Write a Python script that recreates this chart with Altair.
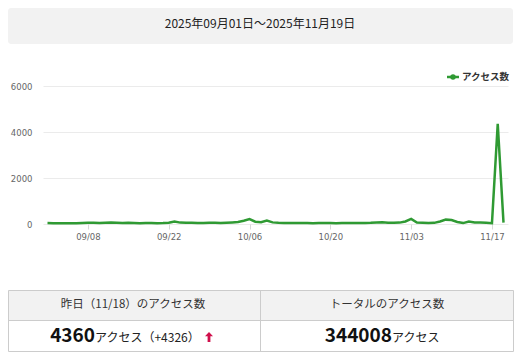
import altair as alt
import pandas as pd

# ---------------- data ----------------
dates = pd.date_range("2025-09-01", "2025-11-19", freq="D").strftime("%Y-%m-%d").tolist()
access = [
    40, 35, 30, 32, 28, 35, 45, 50, 55, 48,      # 09/01-09/10
    52, 60, 55, 45, 50, 42, 38, 45, 40, 35,      # 09/11-09/20
    42, 55, 110, 60, 55, 50, 45, 48, 52, 50,     # 09/21-09/30
    45, 55, 70, 90, 140, 210, 100, 80, 150, 70,  # 10/01-10/10
    50, 45, 42, 40, 45, 40, 38, 42, 45, 40,      # 10/11-10/20
    38, 40, 42, 45, 40, 45, 50, 70, 75, 55,      # 10/21-10/30
    50, 60, 110, 220, 60, 50, 45, 50, 110, 190,  # 10/31-11/09
    170, 90, 40, 110, 70, 60, 50, 34, 4360, 60,  # 11/10-11/19
]
series_name = "アクセス数"
period_label = "2025年09月01日～2025年11月19日"
table_headers = ["昨日（11/18）のアクセス数", "トータルのアクセス数"]
yesterday_count = "4360"
yesterday_suffix = "アクセス（+4326）"
total_count = "344008"
total_suffix = "アクセス"
y_ticks = [0, 2000, 4000, 6000]
x_ticks = ["2025-09-08", "2025-09-22", "2025-10-06", "2025-10-20", "2025-11-03", "2025-11-17"]

# ---------------- styling ----------------
GREEN = "#2f9a33"
JP = "Noto Sans CJK JP"
BORDER = "#cccccc"
GRAY_BG = "#f2f2f2"

df = pd.DataFrame({"date": dates, "access": access})


def ms(s):
    return int(pd.Timestamp(s, tz="UTC").value // 10**6)


pad_ms = int(18.7 * 3600 * 1000)
x_domain = [ms(dates[0]) - pad_ms, ms(dates[-1]) + pad_ms]

line = alt.Chart(df).mark_line(color=GREEN, strokeWidth=2.5).encode(
    x=alt.X(
        "date:T",
        scale=alt.Scale(type="utc", domain=x_domain),
        axis=alt.Axis(
            values=[ms(t) for t in x_ticks],
            format="%m/%d",
            title=None,
            grid=False,
            domain=False,
            ticks=True,
            tickSize=5,
            tickColor="#d9d9d9",
            labelFont="DejaVu Sans",
            labelFontSize=8.5,
            labelColor="#666666",
            labelPadding=3,
        ),
    ),
    y=alt.Y(
        "access:Q",
        scale=alt.Scale(domain=[0, 6000], nice=False),
        axis=alt.Axis(
            values=y_ticks,
            format="d",
            title=None,
            grid=True,
            gridColor="#ebebeb",
            domain=False,
            ticks=False,
            labelFont="DejaVu Sans",
            labelFontSize=8.5,
            labelColor="#666666",
            labelPadding=11,
        ),
    ),
)

one = pd.DataFrame({"k": [0]})

# header box
header_box = alt.Chart(one).mark_rect(fill=GRAY_BG, cornerRadius=3).encode(
    x=alt.value(-35), x2=alt.value(470), y=alt.value(-78), y2=alt.value(-42)
)
header_text = alt.Chart(pd.DataFrame({"t": [period_label]})).mark_text(
    font=JP, fontSize=12, color="#222222", align="center", baseline="middle"
).encode(x=alt.value(217), y=alt.value(-62), text="t:N")

# legend
leg_df = pd.DataFrame({"s": [series_name]})
leg_rule = alt.Chart(leg_df).mark_rule(color=GREEN, strokeWidth=2.5).encode(
    x=alt.value(404), x2=alt.value(416), y=alt.value(-9)
)
leg_pt = alt.Chart(leg_df).mark_point(filled=True, color=GREEN, size=30, opacity=1).encode(
    x=alt.value(410), y=alt.value(-9)
)
leg_text = alt.Chart(leg_df).mark_text(
    font=JP, fontSize=9.5, color="#333333", align="left", baseline="middle", fontWeight="bold"
).encode(x=alt.value(419), y=alt.value(-9), text="s:N")

# table
T0, T1, T2 = 204.5, 234.5, 265.5
tbl_head_bg = alt.Chart(one).mark_rect(fill=GRAY_BG).encode(
    x=alt.value(-34.5), x2=alt.value(470.5), y=alt.value(T0), y2=alt.value(T1)
)
tbl_border = alt.Chart(one).mark_rect(fill=None, stroke=BORDER, strokeWidth=1).encode(
    x=alt.value(-34.5), x2=alt.value(470.5), y=alt.value(T0), y2=alt.value(T2)
)
tbl_hline = alt.Chart(one).mark_rule(color=BORDER, strokeWidth=1).encode(
    x=alt.value(-34.5), x2=alt.value(470.5), y=alt.value(T1)
)
tbl_vline = alt.Chart(one).mark_rule(color=BORDER, strokeWidth=1).encode(
    x=alt.value(217.5), y=alt.value(T0), y2=alt.value(T2)
)
head1 = alt.Chart(pd.DataFrame({"t": [table_headers[0]]})).mark_text(
    font=JP, fontSize=11.5, color="#333333", align="center", baseline="middle"
).encode(x=alt.value(90), y=alt.value(219), text="t:N")
head2 = alt.Chart(pd.DataFrame({"t": [table_headers[1]]})).mark_text(
    font=JP, fontSize=11.5, color="#333333", align="center", baseline="middle"
).encode(x=alt.value(344), y=alt.value(219), text="t:N")

VB = 256
num1 = alt.Chart(pd.DataFrame({"t": [yesterday_count]})).mark_text(
    font=JP, fontSize=19, fontWeight="bold", color="#111111", align="right", baseline="alphabetic"
).encode(x=alt.value(52), y=alt.value(VB), text="t:N")
suf1 = alt.Chart(pd.DataFrame({"t": [yesterday_suffix]})).mark_text(
    font=JP, fontSize=12, color="#222222", align="left", baseline="alphabetic"
).encode(x=alt.value(52), y=alt.value(VB), text="t:N")
arrow = alt.Chart(one).mark_point(
    shape="M0,-1L0.8,-0.15L0.28,-0.15L0.28,1L-0.28,1L-0.28,-0.15L-0.8,-0.15Z",
    filled=True, color="#d0104c", size=100, opacity=1,
).encode(x=alt.value(166), y=alt.value(VB - 5))
num2 = alt.Chart(pd.DataFrame({"t": [total_count]})).mark_text(
    font=JP, fontSize=19, fontWeight="bold", color="#111111", align="right", baseline="alphabetic"
).encode(x=alt.value(349), y=alt.value(VB), text="t:N")
suf2 = alt.Chart(pd.DataFrame({"t": [total_suffix]})).mark_text(
    font=JP, fontSize=12, color="#222222", align="left", baseline="alphabetic"
).encode(x=alt.value(349), y=alt.value(VB), text="t:N")

chart = alt.layer(
    header_box, header_text,
    line,
    leg_rule, leg_pt, leg_text,
    tbl_head_bg, tbl_border, tbl_hline, tbl_vline,
    head1, head2, num1, suf1, arrow, num2, suf2,
).properties(
    width=465,
    height=138,
    autosize=alt.AutoSizeParams(type="none"),
    padding={"left": 35, "top": 78, "right": 8, "bottom": 128},
    background="white",
).configure_view(stroke=None)

chart.save("out.html", embed_options={"renderer": "svg", "actions": False})
